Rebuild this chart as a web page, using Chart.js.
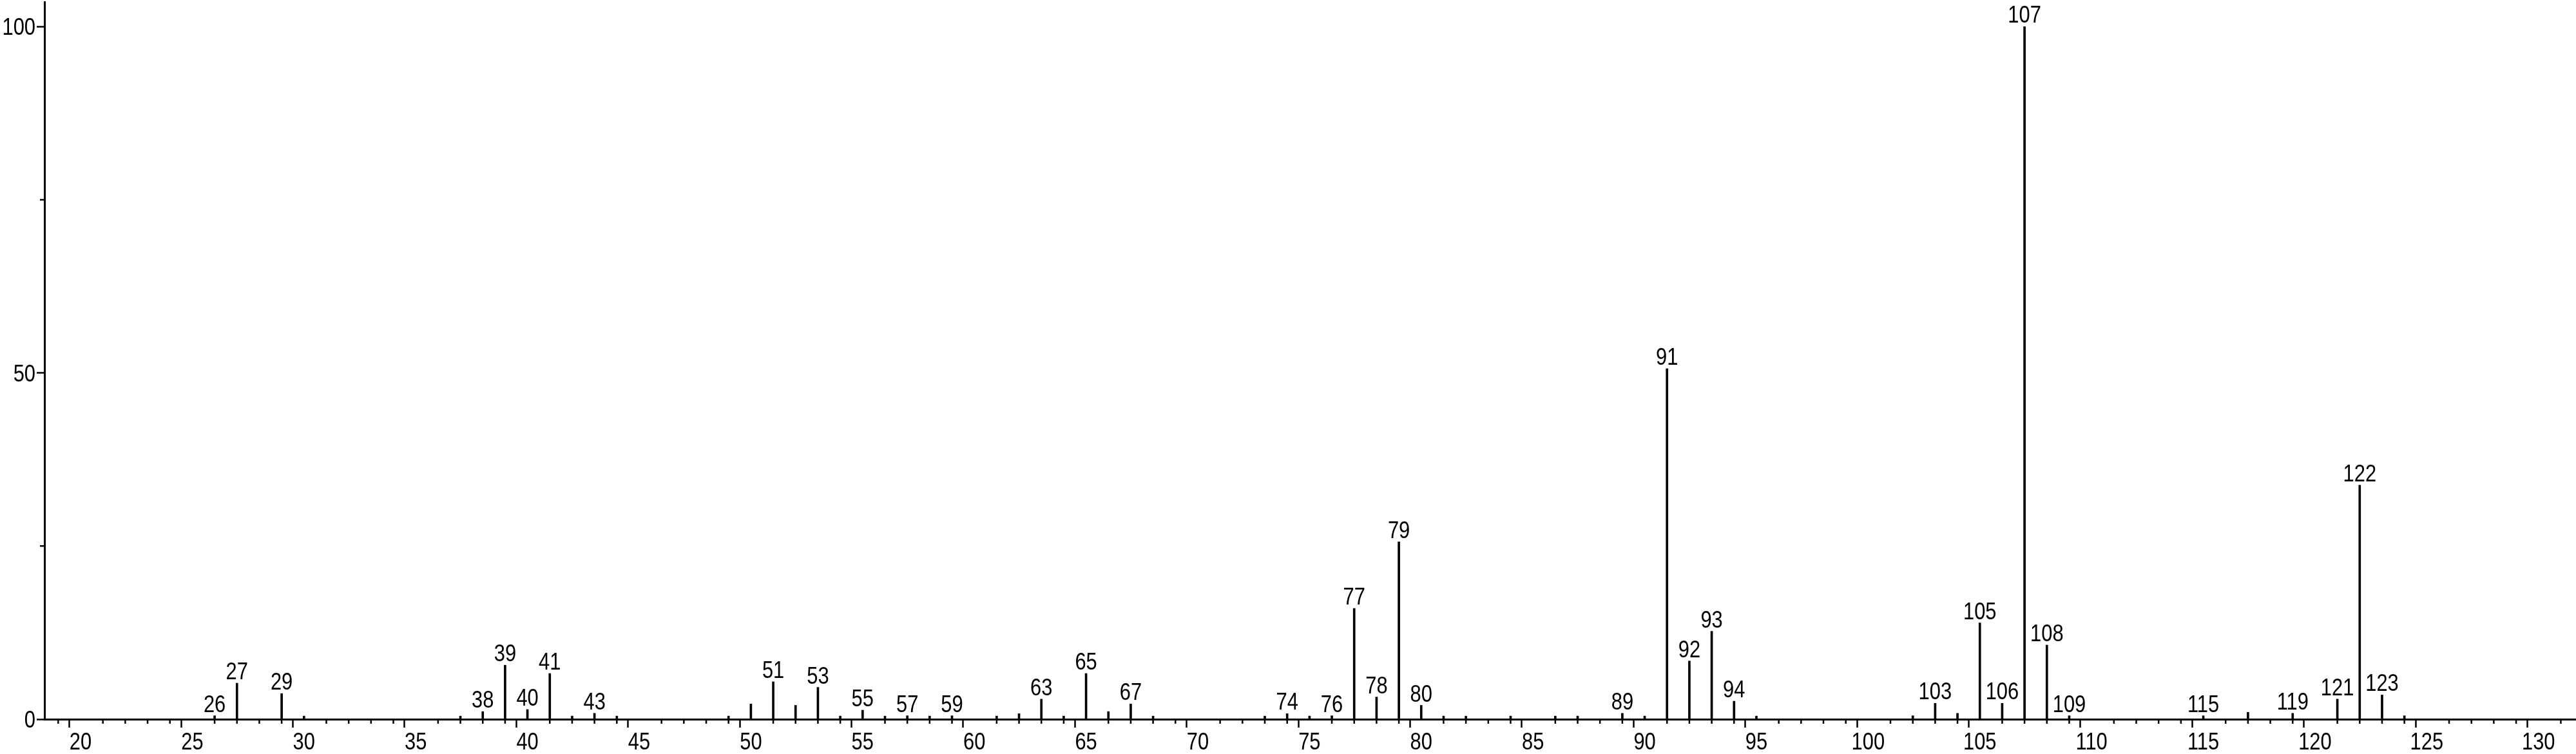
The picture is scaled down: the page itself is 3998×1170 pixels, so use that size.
<!DOCTYPE html>
<html>
<head>
<meta charset="utf-8">
<script src="https://cdn.jsdelivr.net/npm/chart.js@4/dist/chart.umd.min.js"></script>
<style>
  html, body { margin: 0; padding: 0; background: #fff; }
  #wrap { width: 3998px; height: 1170px; }
</style>
</head>
<body>
<div id="wrap"><canvas id="spectrum"></canvas></div>
<script>
// m/z values and relative intensities (%)
const mz = [26, 27, 29, 30, 37, 38, 39, 40, 41, 42, 43, 44, 49, 50, 51, 52, 53, 54, 55, 56,
            57, 58, 59, 61, 62, 63, 64, 65, 66, 67, 68, 73, 74, 75, 76, 77, 78, 79, 80, 81,
            82, 84, 86, 87, 89, 90, 91, 92, 93, 94, 95, 102, 103, 104, 105, 106, 107, 108, 109, 115,
            117, 119, 121, 122, 123, 124];
const intensity = [0.5, 5.2, 3.7, 0.45, 0.45, 1.1, 7.8, 1.4, 6.6, 0.45, 0.85, 0.45, 0.45, 2.2, 5.4, 2.0, 4.6, 0.45, 1.3, 0.45,
                   0.5, 0.45, 0.5, 0.45, 0.8, 2.9, 0.45, 6.6, 1.1, 2.2, 0.45, 0.45, 0.8, 0.45, 0.5, 16.0, 3.2, 25.6, 2.0, 0.45,
                   0.45, 0.45, 0.45, 0.45, 0.85, 0.45, 50.6, 8.4, 12.7, 2.6, 0.45, 0.5, 2.3, 0.85, 13.9, 2.3, 100, 10.7, 0.5, 0.5,
                   1.0, 0.85, 2.9, 33.8, 3.5, 0.5];
// peaks that carry their m/z as a label
const labelled = [26, 27, 29, 38, 39, 40, 41, 43, 51, 53, 55, 57, 59, 63, 65, 67, 74, 76, 77, 78,
                  79, 80, 89, 91, 92, 93, 94, 103, 105, 106, 107, 108, 109, 115, 119, 121, 122, 123];

const FONT = '37px "Liberation Sans", Arial, sans-serif';
const SQUEEZE = 0.835; // the original uses a narrow face

// narrow text: squeeze horizontally around the anchor point
function narrowText(ctx, text, x, y, align) {
    ctx.save();
    ctx.translate(x, y);
    ctx.scale(SQUEEZE, 1);
    ctx.textAlign = align;
    ctx.fillText(text, 0, 0);
    ctx.restore();
}

// labels above the peaks
const peakLabels = {
    id: 'peakLabels',
    afterDatasetsDraw(chart) {
        const ctx = chart.ctx;
        const meta = chart.getDatasetMeta(0);
        ctx.save();
        ctx.font = FONT;
        ctx.fillStyle = '#000';
        ctx.textBaseline = 'alphabetic';
        meta.data.forEach((bar, i) => {
            if (!labelled.includes(mz[i])) return;
            narrowText(ctx, String(mz[i]), bar.x, bar.y - 6, 'center');
        });
        ctx.restore();
    }
};

// short ticks between the major ones, and the narrow tick labels
const axisExtras = {
    id: 'axisExtras',
    afterDraw(chart) {
        const { ctx, scales: { x, y } } = chart;
        ctx.save();
        ctx.strokeStyle = '#000';
        ctx.lineWidth = 2.5;
        ctx.beginPath();
        x.ticks.filter(t => t.value % 5 !== 0).forEach(t => {
            const px = x.getPixelForValue(t.value);
            ctx.moveTo(px, x.top);
            ctx.lineTo(px, x.top + 7);
        });
        y.ticks.filter(t => t.value % 50 !== 0).forEach(t => {
            const py = y.getPixelForValue(t.value);
            ctx.moveTo(y.right, py);
            ctx.lineTo(y.right - 7, py);
        });
        ctx.stroke();

        ctx.font = FONT;
        ctx.fillStyle = '#000';
        ctx.textBaseline = 'alphabetic';
        x.ticks.forEach(t => {
            if (!t.label) return;
            narrowText(ctx, t.label, x.getPixelForValue(t.value), x.top + 47, 'center');
        });
        ctx.textBaseline = 'middle';
        y.ticks.forEach(t => {
            if (!t.label) return;
            narrowText(ctx, t.label, y.right - 14, y.getPixelForValue(t.value) + 3, 'right');
        });
        ctx.restore();
    }
};

new Chart(document.getElementById('spectrum').getContext('2d'), {
    type: 'bar',
    data: {
        datasets: [{
            data: mz.map((m, i) => ({ x: m, y: intensity[i] })),
            backgroundColor: '#000',
            borderWidth: 0,
            barThickness: 3
        }]
    },
    options: {
        responsive: true,
        maintainAspectRatio: false,
        devicePixelRatio: 1,
        animation: false,
        layout: { padding: { top: 3, right: 0, left: 0, bottom: 0 } },
        plugins: { legend: { display: false }, tooltip: { enabled: false } },
        scales: {
            x: {
                type: 'linear',
                min: 18.385,
                max: 131.68,
                offset: false,
                border: { display: true, color: '#000', width: 3 },
                grid: {
                    drawOnChartArea: false,
                    tickLength: 13,
                    tickWidth: 2.5,
                    tickColor: c => (c.tick && c.tick.value % 5 === 0) ? '#000' : 'rgba(0,0,0,0)'
                },
                ticks: {
                    stepSize: 1,
                    includeBounds: false,
                    autoSkip: false,
                    maxRotation: 0,
                    padding: 2,
                    color: 'rgba(0,0,0,0)',
                    font: { family: '"Liberation Sans", Arial, sans-serif', size: 37 },
                    callback: v => (v % 5 === 0 ? String(v) : '')
                },
                afterFit: s => { s.height = 54; s.paddingLeft = 0; s.paddingRight = 0; }
            },
            y: {
                min: 0,
                max: 103.56,
                border: { display: true, color: '#000', width: 3 },
                grid: {
                    drawOnChartArea: false,
                    tickLength: 12,
                    tickWidth: 2.5,
                    tickColor: c => (c.tick && c.tick.value % 50 === 0) ? '#000' : 'rgba(0,0,0,0)'
                },
                ticks: {
                    stepSize: 25,
                    includeBounds: false,
                    padding: 2,
                    color: 'rgba(0,0,0,0)',
                    font: { family: '"Liberation Sans", Arial, sans-serif', size: 37 },
                    callback: v => (v % 50 === 0 ? String(v) : '')
                },
                afterFit: s => { s.width = 69; s.paddingTop = 0; s.paddingBottom = 0; }
            }
        }
    },
    plugins: [peakLabels, axisExtras]
});
</script>
</body>
</html>
